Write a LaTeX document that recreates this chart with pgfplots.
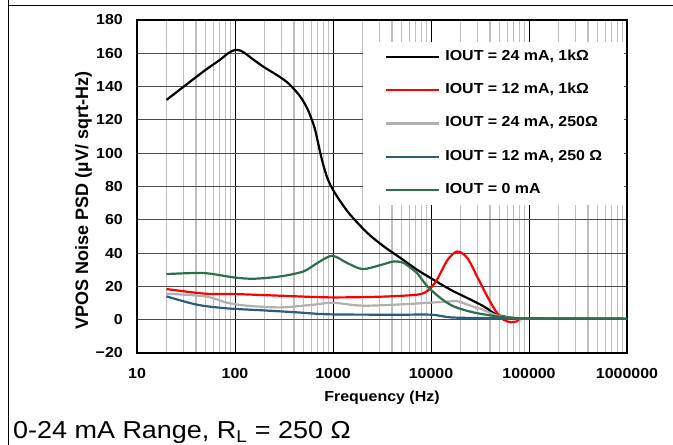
\documentclass[border=0pt]{standalone}
\usepackage{fontspec}
\setmainfont{Liberation Sans}[FakeStretch=1.1]
\newfontfamily\ylabfont{Liberation Sans}
\usepackage{pgfplots}
\pgfplotsset{compat=1.18}
\definecolor{cblue}{RGB}{44,92,124}
\definecolor{cgreen}{RGB}{45,110,78}
\definecolor{cgray}{RGB}{176,176,176}
\definecolor{cred}{RGB}{255,0,0}
\begin{document}
\begin{tikzpicture}[x=1bp,y=1bp]
\path[use as bounding box] (0,0) rectangle (673,445);
\draw[line width=1bp] (8.3,0) -- (8.3,445);
\draw[line width=1bp] (8.3,439) -- (673,439);
\begin{axis}[
  at={(137bp,92bp)}, anchor=south west,
  scale only axis, width=490bp, height=333bp,
  xmode=log, xmin=10, xmax=1000000, ymin=-20, ymax=180,
  xtick={10,100,1000,10000,100000,1000000},
  xticklabels={10,100,1000,10000,100000,1000000},
  minor xtick={20,30,40,50,60,70,80,90,200,300,400,500,600,700,800,900,2000,3000,4000,5000,6000,7000,8000,9000,20000,30000,40000,50000,60000,70000,80000,90000,200000,300000,400000,500000,600000,700000,800000,900000},
  ytick={-20,0,20,40,60,80,100,120,140,160,180},
  yticklabels={−20,0,20,40,60,80,100,120,140,160,180},
  xmajorgrids, xminorgrids, ymajorgrids,
  major tick length=0pt, minor tick length=0pt,
  major x grid style={black, line width=0.8bp},
  minor x grid style={black!25, line width=1.3bp},
  major y grid style={black!70, line width=1bp},
  axis line style={black, line width=2bp},
  tick label style={font=\bfseries\fontsize{14.5bp}{16bp}\selectfont},
  xticklabel style={inner sep=0pt, text height=10bp, anchor=north, yshift=-15bp},
  yticklabel style={inner sep=0pt, anchor=east, xshift=-14bp},
  xlabel={Frequency (Hz)},
  ylabel={VPOS Noise PSD (µV/ sqrt-Hz)},
  xlabel style={font=\bfseries\fontsize{14.5bp}{16bp}\selectfont, at={(axis description cs:0.5,0)}, anchor=base, yshift=-48.7bp, inner sep=0pt},
  ylabel style={font=\ylabfont\bfseries\fontsize{18bp}{20bp}\selectfont, at={(axis description cs:-0.1,0.458)}, anchor=base, inner sep=0pt},
  legend style={at={(0.4612,0.934)}, anchor=north west, fill=white, draw=none,
    inner xsep=22bp, inner ysep=8bp, row sep=20.4bp, column sep=5bp,
    nodes={inner sep=0pt, text height=10bp, text depth=3bp},
    font=\bfseries\fontsize{14.5bp}{16bp}\selectfont},
  legend cell align=left,
  legend image code/.code={\draw[#1] (0bp,0bp) -- (53bp,0bp);},
  every axis plot/.append style={line width=2.2bp, smooth, tension=0.5},
]
\addplot[black] coordinates {(20,132) (30,140) (50,150) (70,156) (85,160) (100,162) (115,161.5) (130,159.5) (160,155.5) (200,151.5) (250,148) (300,145) (350,142) (400,138.5) (450,135) (500,131) (550,126.5) (600,121) (650,115) (700,107) (750,99) (800,92.5) (870,85.5) (940,81) (1000,78) (1100,74) (1190,71) (1500,63) (2250,52) (3300,44) (4900,37) (7200,30) (10600,24) (15800,18) (23500,13) (34500,8) (47000,3) (70000,1) (100000,0.7) (1000000,0.5)};
\addlegendentry{IOUT = 24 mA, 1kΩ}
\addplot[cred] coordinates {(20,18.4) (50,15.6) (100,15.4) (290,14.4) (940,13.4) (3000,13.8) (6600,14.8) (8500,16) (9900,19) (11500,24) (14800,36) (18600,41) (23500,37) (29500,26) (37500,14) (46000,5) (55000,0) (65000,-1.5) (75000,-1) (100000,0.7) (1000000,0.5)};
\addlegendentry{IOUT = 12 mA, 1kΩ}
\addplot[cgray] coordinates {(20,15.6) (50,14) (83,10.2) (132,8.4) (290,7.4) (630,9) (1000,10.2) (2050,8.4) (6600,9.6) (15800,11) (19000,11) (29500,7) (32000,6.6) (47000,2.5) (70000,1) (100000,0.7) (1000000,0.5)};
\addlegendentry{IOUT = 24 mA, 250Ω}
\addplot[cblue] coordinates {(20,14) (41,9) (83,6.8) (195,5.6) (430,4.4) (940,3.2) (4500,3) (10000,3) (15800,1.4) (30000,1) (100000,0.7) (1000000,0.5)};
\addlegendentry{IOUT = 12 mA, 250 Ω}
\addplot[cgreen] coordinates {(20,27.4) (48,28) (97,25.4) (155,24.6) (290,26) (500,29) (690,34) (980,38.4) (1400,34) (2000,30.4) (3050,32.8) (4200,35) (5300,34) (6200,31) (7200,28) (9200,20) (12500,13) (17000,8) (27000,4.4) (47000,2) (70000,1) (100000,0.7) (1000000,0.5)};
\addlegendentry{IOUT = 0 mA}
\end{axis}
\node[anchor=base west, inner sep=0pt, font=\fontsize{24.5bp}{26bp}\selectfont] at (13,6.5) {0-24 mA Range, R\textsubscript{L} = 250 Ω};
\end{tikzpicture}
\end{document}
